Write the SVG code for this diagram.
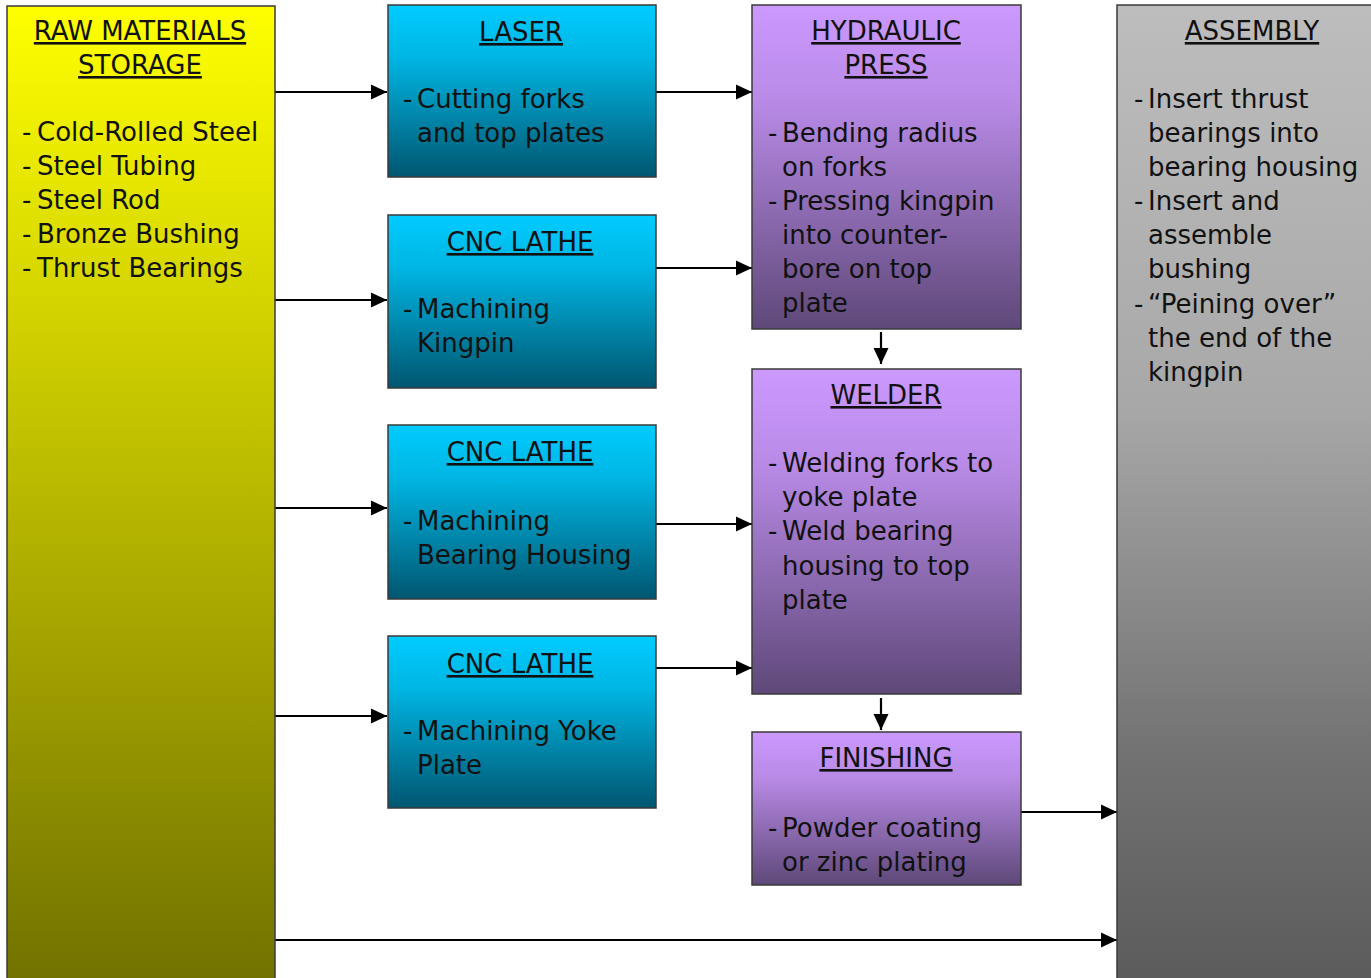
<svg xmlns="http://www.w3.org/2000/svg" width="1371" height="978" viewBox="0 0 1371 978">
<defs>
<linearGradient id="gY" x1="0" y1="0" x2="0" y2="1"><stop offset="0" stop-color="#ffff00"/><stop offset="1" stop-color="#6e6e00"/></linearGradient>
<linearGradient id="gC" x1="0" y1="0" x2="0" y2="1"><stop offset="0" stop-color="#00ccff"/><stop offset="0.3" stop-color="#00b6e4"/><stop offset="1" stop-color="#005670"/></linearGradient>
<linearGradient id="gP" x1="0" y1="0" x2="0" y2="1"><stop offset="0" stop-color="#cc99ff"/><stop offset="0.3" stop-color="#b88ae6"/><stop offset="1" stop-color="#5e4878"/></linearGradient>
<linearGradient id="gG" x1="0" y1="0" x2="0" y2="1"><stop offset="0" stop-color="#bdbdbd"/><stop offset="0.4" stop-color="#a8a8a8"/><stop offset="0.75" stop-color="#727272"/><stop offset="1" stop-color="#595959"/></linearGradient>
<marker id="ah" markerUnits="userSpaceOnUse" markerWidth="18" markerHeight="18" refX="16" refY="8" orient="auto"><path d="M0,0.5 L16,8 L0,15.5 z" fill="#000"/></marker>
</defs>
<style>
.box{stroke:#3a3a3a;stroke-width:1.5}
text{font-family:"DejaVu Sans","Liberation Sans",sans-serif;font-size:26px;fill:#111}
.t{text-anchor:middle;text-decoration:underline}
.c{stroke:#000;stroke-width:2.2;fill:none;marker-end:url(#ah)}
</style>
<rect width="1371" height="978" fill="#fff"/>
<g id="connectors">
<line class="c" x1="275" y1="92" x2="387" y2="92"/>
<line class="c" x1="275" y1="300" x2="387" y2="300"/>
<line class="c" x1="275" y1="508" x2="387" y2="508"/>
<line class="c" x1="275" y1="716" x2="387" y2="716"/>
<line class="c" x1="275" y1="940" x2="1117" y2="940"/>
<line class="c" x1="656" y1="92" x2="752" y2="92"/>
<line class="c" x1="656" y1="268" x2="752" y2="268"/>
<line class="c" x1="656" y1="524" x2="752" y2="524"/>
<line class="c" x1="656" y1="668" x2="752" y2="668"/>
<line class="c" x1="1021" y1="812" x2="1117" y2="812"/>
<line class="c" x1="881" y1="332" x2="881" y2="364"/>
<line class="c" x1="881" y1="698" x2="881" y2="730"/>
</g>
<g id="raw">
<rect class="box" x="7" y="6" width="268" height="1000" fill="url(#gY)"/>
<text class="t" x="140" y="40">RAW MATERIALS</text>
<text class="t" x="140" y="74">STORAGE</text>
<text x="22" y="141">-</text><text x="37" y="141">Cold-Rolled Steel</text>
<text x="22" y="175">-</text><text x="37" y="175">Steel Tubing</text>
<text x="22" y="209">-</text><text x="37" y="209">Steel Rod</text>
<text x="22" y="243">-</text><text x="37" y="243">Bronze Bushing</text>
<text x="22" y="277">-</text><text x="37" y="277">Thrust Bearings</text>
</g>
<g id="laser">
<rect class="box" x="388" y="5" width="268" height="172" fill="url(#gC)"/>
<text class="t" x="521" y="41">LASER</text>
<text x="403" y="108">-</text><text x="417" y="108">Cutting forks</text>
<text x="417" y="142">and top plates</text>
</g>
<g id="cnc1">
<rect class="box" x="388" y="215" width="268" height="173" fill="url(#gC)"/>
<text class="t" x="520" y="251">CNC LATHE</text>
<text x="403" y="318">-</text><text x="417" y="318">Machining</text>
<text x="417" y="352">Kingpin</text>
</g>
<g id="cnc2">
<rect class="box" x="388" y="425" width="268" height="174" fill="url(#gC)"/>
<text class="t" x="520" y="461">CNC LATHE</text>
<text x="403" y="530">-</text><text x="417" y="530">Machining</text>
<text x="417" y="564">Bearing Housing</text>
</g>
<g id="cnc3">
<rect class="box" x="388" y="636" width="268" height="172" fill="url(#gC)"/>
<text class="t" x="520" y="673">CNC LATHE</text>
<text x="403" y="740">-</text><text x="417" y="740">Machining Yoke</text>
<text x="417" y="774">Plate</text>
</g>
<g id="press">
<rect class="box" x="752" y="5" width="269" height="324" fill="url(#gP)"/>
<text class="t" x="886" y="40">HYDRAULIC</text>
<text class="t" x="886" y="74">PRESS</text>
<text x="768" y="142">-</text><text x="782" y="142">Bending radius</text>
<text x="782" y="176">on forks</text>
<text x="768" y="210">-</text><text x="782" y="210">Pressing kingpin</text>
<text x="782" y="244">into counter-</text>
<text x="782" y="278">bore on top</text>
<text x="782" y="312">plate</text>
</g>
<g id="welder">
<rect class="box" x="752" y="369" width="269" height="325" fill="url(#gP)"/>
<text class="t" x="886" y="404">WELDER</text>
<text x="768" y="472">-</text><text x="782" y="472">Welding forks to</text>
<text x="782" y="506">yoke plate</text>
<text x="768" y="540">-</text><text x="782" y="540">Weld bearing</text>
<text x="782" y="575">housing to top</text>
<text x="782" y="609">plate</text>
</g>
<g id="finishing">
<rect class="box" x="752" y="732" width="269" height="153" fill="url(#gP)"/>
<text class="t" x="886" y="767">FINISHING</text>
<text x="768" y="837">-</text><text x="782" y="837">Powder coating</text>
<text x="782" y="871">or zinc plating</text>
</g>
<g id="assembly">
<rect class="box" x="1117" y="5" width="280" height="1000" fill="url(#gG)"/>
<text class="t" x="1252" y="40">ASSEMBLY</text>
<text x="1134" y="108">-</text><text x="1148" y="108">Insert thrust</text>
<text x="1148" y="142">bearings into</text>
<text x="1148" y="176">bearing housing</text>
<text x="1134" y="210">-</text><text x="1148" y="210">Insert and</text>
<text x="1148" y="244">assemble</text>
<text x="1148" y="278">bushing</text>
<text x="1134" y="313">-</text><text x="1148" y="313">“Peining over”</text>
<text x="1148" y="347">the end of the</text>
<text x="1148" y="381">kingpin</text>
</g>
</svg>
